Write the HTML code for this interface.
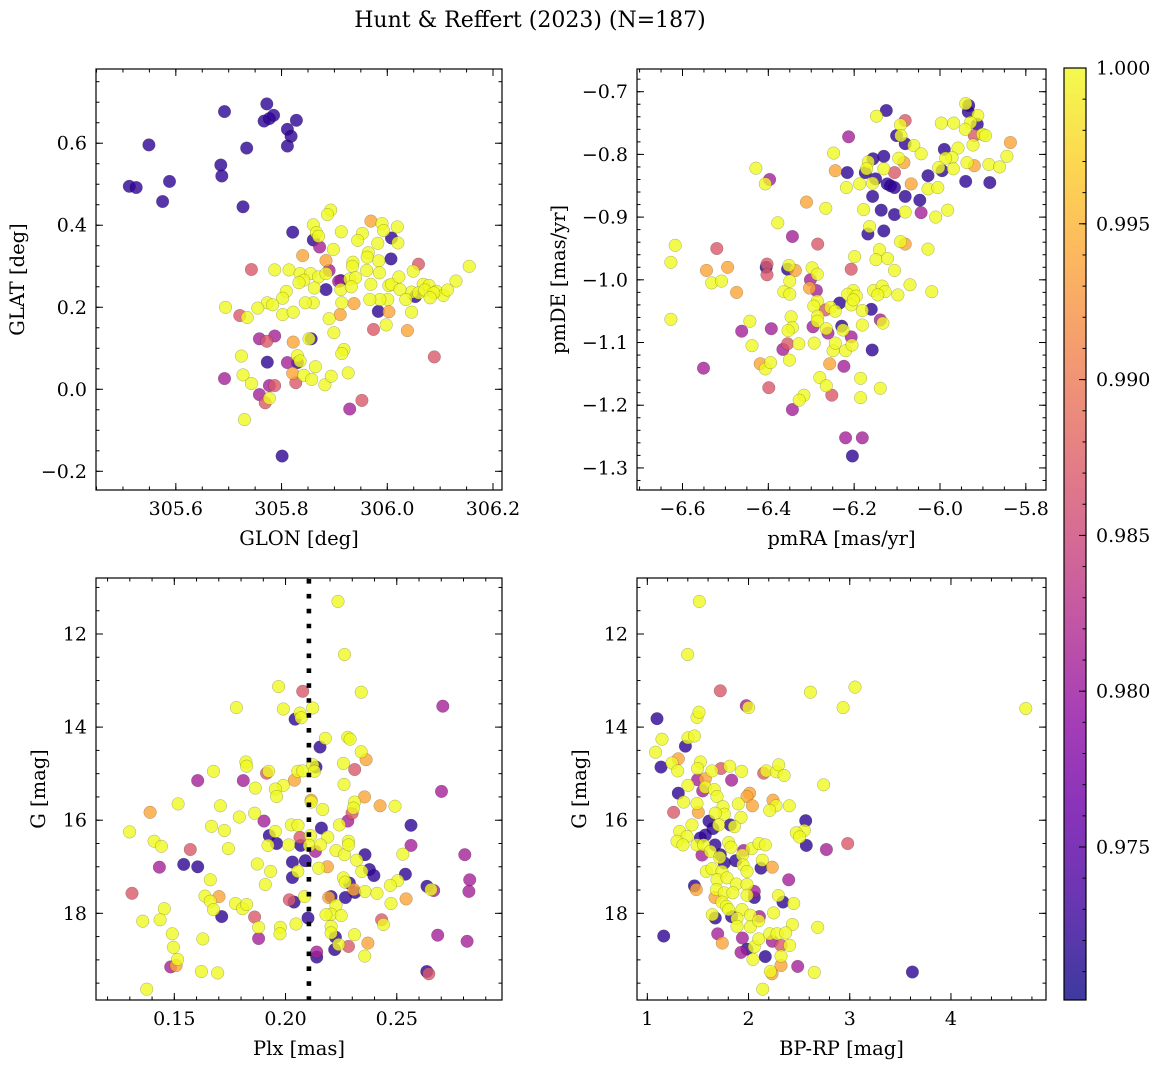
<!DOCTYPE html>
<html><head><meta charset="utf-8">
<style>
html,body{margin:0;padding:0;background:#fff;}
svg{display:block;font-family:"DejaVu Serif","Liberation Serif",serif;}
</style></head>
<body>
<svg id="fig" width="1161" height="1068" viewBox="0 0 1161 1068" xmlns="http://www.w3.org/2000/svg">
<defs>
<linearGradient id="plasmaGrad" x1="0" y1="1" x2="0" y2="0">
<stop offset="0" stop-color="#0d0887"/><stop offset="0.1" stop-color="#41049d"/><stop offset="0.2" stop-color="#6a00a8"/><stop offset="0.3" stop-color="#8f0da4"/><stop offset="0.4" stop-color="#b12a90"/><stop offset="0.5" stop-color="#cc4778"/><stop offset="0.6" stop-color="#e16462"/><stop offset="0.7" stop-color="#f2844b"/><stop offset="0.8" stop-color="#fca636"/><stop offset="0.9" stop-color="#fcce25"/><stop offset="1" stop-color="#f0f921"/>
</linearGradient>
</defs>
<text x="530" y="27" font-size="22" text-anchor="middle">Hunt &amp; Reffert (2023) (N=187)</text>
<g id="root"></g>
</svg>
<script>
const Y=1.0,O=0.994,P=0.987,M=0.981,D=0.972;
// Panel 1: GLON, GLAT, membership probability
const glonGlatPoints=[
[305.772,0.696,D],[305.692,0.677,D],[305.767,0.654,D],[305.777,0.660,D],[305.785,0.668,D],[305.828,0.656,D],[305.811,0.634,D],[305.818,0.617,D],[305.811,0.593,D],[305.549,0.596,D],[305.734,0.588,D],[305.685,0.547,D],[305.687,0.520,D],[305.512,0.495,D],[305.525,0.492,D],[305.588,0.507,D],[305.575,0.458,D],[305.727,0.445,D],[305.821,0.383,D],[305.801,-0.163,D],
[305.860,0.364,D],[306.008,0.369,D],[306.007,0.318,D],[305.884,0.243,D],[305.912,0.265,D],[305.983,0.190,D],[306.053,0.226,D],[305.773,0.066,D],[305.830,0.065,D],[305.856,0.123,D],
[305.872,0.347,M],[305.890,0.290,M],[305.758,0.123,M],[305.787,0.130,M],[305.811,0.065,M],[305.692,0.026,M],[305.758,-0.013,M],[305.777,0.009,M],[305.929,-0.048,M],[305.908,0.263,M],
[305.827,0.016,P],[305.743,0.292,P],[306.059,0.305,P],[305.721,0.180,P],[305.974,0.146,P],[305.772,0.117,P],[306.089,0.079,P],[305.952,-0.027,P],[305.769,-0.033,P],[305.787,0.009,P],
[305.969,0.410,O],[305.884,0.314,O],[305.840,0.326,O],[305.937,0.209,O],[305.911,0.182,O],[306.003,0.189,O],[306.038,0.143,O],[305.822,0.115,O],[305.821,0.039,O],
[305.893,0.437,Y],[305.887,0.426,Y],[305.860,0.401,Y],[305.866,0.382,Y],[305.870,0.373,Y],[305.913,0.384,Y],[305.953,0.380,Y],[305.944,0.363,Y],[305.990,0.404,Y],[305.993,0.387,Y],[306.019,0.396,Y],[306.020,0.357,Y],[305.982,0.356,Y],[305.898,0.341,Y],[305.964,0.333,Y],[305.962,0.322,Y],[305.984,0.313,Y],[305.935,0.310,Y],[305.934,0.300,Y],[305.787,0.291,Y],[305.814,0.291,Y],[305.835,0.282,Y],[305.855,0.282,Y],[305.870,0.274,Y],[305.842,0.266,Y],[305.833,0.260,Y],[305.862,0.247,Y],[305.884,0.282,Y],[305.912,0.243,Y],[305.929,0.269,Y],[305.940,0.272,Y],[305.961,0.290,Y],[305.969,0.256,Y],[305.985,0.284,Y],[306.003,0.253,Y],[306.008,0.256,Y],[306.022,0.274,Y],[306.049,0.288,Y],[306.068,0.256,Y],[306.079,0.253,Y],[306.093,0.239,Y],[306.106,0.229,Y],[306.114,0.242,Y],[306.130,0.264,Y],[306.155,0.300,Y],[306.046,0.237,Y],[306.059,0.235,Y],[306.071,0.242,Y],[306.088,0.235,Y],[306.081,0.223,Y],[306.024,0.243,Y],[306.035,0.219,Y],[306.046,0.188,Y],[306.001,0.219,Y],[305.986,0.219,Y],[305.967,0.219,Y],[305.998,0.157,Y],[305.914,0.211,Y],[305.932,0.250,Y],[305.890,0.172,Y],[305.899,0.138,Y],[305.918,0.097,Y],[305.914,0.087,Y],[305.860,0.211,Y],[305.845,0.211,Y],[305.809,0.239,Y],[305.802,0.222,Y],[305.802,0.182,Y],[305.822,0.188,Y],[305.773,0.211,Y],[305.783,0.206,Y],[305.755,0.198,Y],[305.694,0.200,Y],[305.735,0.175,Y],[305.852,0.123,Y],[305.724,0.081,Y],[305.830,0.082,Y],[305.835,0.069,Y],[305.864,0.055,Y],[305.727,0.035,Y],[305.743,0.014,Y],[305.777,-0.022,Y],[305.842,0.034,Y],[305.857,0.024,Y],[305.882,0.011,Y],[305.894,0.032,Y],[305.926,0.040,Y],[305.730,-0.074,Y]
];
// Panel 2: pmRA, pmDE, probability
const pmPoints=[
[-5.940,-0.719,Y],[-5.933,-0.722,D],[-5.934,-0.732,D],[-5.912,-0.738,Y],[-5.913,-0.752,D],[-5.929,-0.749,Y],[-5.941,-0.760,Y],[-5.968,-0.750,Y],[-5.997,-0.750,Y],[-5.901,-0.768,Y],[-5.894,-0.770,Y],[-5.920,-0.770,P],[-5.923,-0.785,Y],[-6.125,-0.730,D],[-6.148,-0.739,Y],[-6.081,-0.746,P],[-6.092,-0.753,Y],[-6.101,-0.770,D],[-6.091,-0.770,Y],[-6.081,-0.783,D],[-6.061,-0.786,Y],[-6.044,-0.799,Y],[-6.213,-0.772,M],[-5.836,-0.781,O],[-5.990,-0.792,D],[-5.958,-0.790,Y],[-5.972,-0.805,Y],[-5.987,-0.806,Y],[-5.937,-0.813,Y],[-5.920,-0.818,O],[-5.886,-0.816,Y],[-5.861,-0.820,Y],[-5.844,-0.803,Y],[-5.969,-0.823,Y],[-5.995,-0.826,D],[-6.003,-0.821,Y],[-6.248,-0.798,Y],[-6.156,-0.807,D],[-6.131,-0.803,D],[-6.096,-0.806,Y],[-6.084,-0.813,O],[-6.167,-0.812,Y],[-6.171,-0.823,Y],[-6.174,-0.829,D],[-6.216,-0.829,D],[-6.244,-0.826,O],[-6.131,-0.823,Y],[-6.106,-0.829,P],[-6.150,-0.839,D],[-6.157,-0.846,Y],[-6.123,-0.847,D],[-6.115,-0.850,D],[-6.106,-0.853,D],[-6.067,-0.847,O],[-6.028,-0.834,D],[-5.940,-0.843,D],[-5.884,-0.845,D],[-6.187,-0.847,Y],[-6.218,-0.853,Y],[-6.028,-0.855,Y],[-6.005,-0.853,Y],[-6.157,-0.867,D],[-6.081,-0.867,D],[-6.047,-0.873,D],[-6.137,-0.889,D],[-6.106,-0.896,D],[-6.081,-0.892,Y],[-6.044,-0.893,M],[-6.010,-0.900,Y],[-5.982,-0.889,Y],[-6.178,-0.888,Y],[-6.266,-0.886,Y],[-6.311,-0.876,O],[-6.429,-0.822,Y],[-6.397,-0.840,M],[-6.407,-0.847,Y],[-6.378,-0.909,Y],[-6.164,-0.915,Y],[-6.168,-0.927,D],[-6.131,-0.922,D],[-6.092,-0.939,Y],[-6.081,-0.943,O],[-6.028,-0.951,Y],[-6.141,-0.952,Y],[-6.149,-0.968,Y],[-6.122,-0.966,Y],[-6.199,-0.963,Y],[-6.106,-0.985,Y],[-6.285,-0.943,P],[-6.344,-0.931,M],[-6.617,-0.945,Y],[-6.627,-0.972,Y],[-6.520,-0.950,P],[-6.544,-0.985,O],[-6.495,-0.980,O],[-6.532,-1.005,Y],[-6.509,-1.002,Y],[-6.474,-1.020,O],[-6.403,-0.975,P],[-6.405,-0.980,D],[-6.403,-0.992,P],[-6.352,-0.977,Y],[-6.355,-0.983,D],[-6.337,-0.985,O],[-6.350,-1.002,Y],[-6.364,-1.019,Y],[-6.350,-1.023,Y],[-6.298,-0.981,Y],[-6.286,-0.991,Y],[-6.302,-1.000,M],[-6.304,-1.013,O],[-6.288,-1.017,M],[-6.207,-0.983,P],[-6.202,-1.017,Y],[-6.215,-1.023,Y],[-6.195,-1.026,Y],[-6.207,-1.040,Y],[-6.202,-1.032,Y],[-6.155,-1.017,Y],[-6.135,-1.010,Y],[-6.128,-1.019,Y],[-6.145,-1.024,Y],[-6.098,-1.024,Y],[-6.070,-1.008,Y],[-6.019,-1.019,Y],[-6.286,-1.034,Y],[-6.294,-1.042,Y],[-6.234,-1.037,D],[-6.267,-1.048,P],[-6.255,-1.044,Y],[-6.244,-1.050,Y],[-6.181,-1.049,Y],[-6.160,-1.047,D],[-6.285,-1.058,Y],[-6.286,-1.066,Y],[-6.347,-1.059,Y],[-6.344,-1.076,Y],[-6.354,-1.081,Y],[-6.296,-1.075,M],[-6.265,-1.078,Y],[-6.261,-1.085,M],[-6.229,-1.074,D],[-6.226,-1.080,Y],[-6.207,-1.091,M],[-6.139,-1.064,M],[-6.133,-1.069,Y],[-6.181,-1.072,Y],[-6.443,-1.066,Y],[-6.462,-1.082,M],[-6.393,-1.078,M],[-6.438,-1.105,Y],[-6.355,-1.102,P],[-6.366,-1.111,M],[-6.329,-1.102,Y],[-6.293,-1.101,Y],[-6.249,-1.113,Y],[-6.244,-1.101,Y],[-6.220,-1.113,Y],[-6.205,-1.104,Y],[-6.158,-1.112,D],[-6.419,-1.134,O],[-6.407,-1.142,Y],[-6.395,-1.132,Y],[-6.351,-1.128,Y],[-6.257,-1.134,O],[-6.224,-1.138,M],[-6.551,-1.141,M],[-6.627,-1.063,Y],[-6.399,-1.172,P],[-6.280,-1.156,Y],[-6.265,-1.169,Y],[-6.252,-1.184,P],[-6.185,-1.157,Y],[-6.139,-1.173,Y],[-6.185,-1.188,Y],[-6.317,-1.184,Y],[-6.328,-1.192,Y],[-6.344,-1.207,M],[-6.220,-1.252,M],[-6.181,-1.252,M],[-6.204,-1.281,D]
];
// Panel 3: Plx, G, probability
const plxGPoints=[
[0.2236,11.30,Y],[0.2265,12.44,Y],[0.1969,13.13,Y],[0.2077,13.23,P],[0.2340,13.25,Y],[0.1779,13.58,Y],[0.1990,13.61,Y],[0.2122,13.59,Y],[0.2043,13.83,D],[0.2065,13.70,Y],[0.2070,13.80,Y],[0.2707,13.55,M],[0.2179,14.24,Y],[0.2155,14.43,D],[0.2280,14.22,Y],[0.2290,14.26,Y],[0.2340,14.53,Y],[0.2362,14.70,O],[0.1822,14.75,Y],[0.1825,14.84,Y],[0.1676,14.95,Y],[0.1915,14.99,P],[0.1924,14.95,Y],[0.2055,14.95,Y],[0.2077,14.94,Y],[0.2122,14.81,Y],[0.2137,14.86,D],[0.2130,14.95,Y],[0.2040,15.14,O],[0.1990,15.25,Y],[0.1954,15.33,Y],[0.1960,15.49,Y],[0.1605,15.15,M],[0.1810,15.15,M],[0.1864,15.31,Y],[0.2260,14.78,Y],[0.2311,14.91,P],[0.2263,15.23,Y],[0.2701,15.38,M],[0.1517,15.65,Y],[0.1391,15.83,O],[0.1707,15.69,Y],[0.1792,15.93,Y],[0.1861,15.85,Y],[0.1903,16.02,M],[0.2115,15.61,Y],[0.2115,15.57,O],[0.2167,15.77,Y],[0.2355,15.50,O],[0.2310,15.61,Y],[0.2305,15.74,Y],[0.2299,15.85,P],[0.2425,15.69,O],[0.2492,15.70,Y],[0.1299,16.25,Y],[0.1409,16.45,Y],[0.1442,16.56,Y],[0.1667,16.13,Y],[0.1725,16.22,Y],[0.1743,16.61,Y],[0.1954,16.24,Y],[0.1927,16.33,D],[0.1960,16.50,D],[0.1921,16.54,Y],[0.2014,16.53,Y],[0.2026,16.10,Y],[0.2056,16.11,Y],[0.2161,16.17,D],[0.2190,16.36,Y],[0.2242,16.10,Y],[0.2280,16.02,M],[0.2564,16.11,D],[0.2564,16.54,M],[0.2527,16.73,Y],[0.2806,16.74,M],[0.1572,16.63,P],[0.1433,17.01,M],[0.1542,16.95,D],[0.1605,17.00,D],[0.2031,16.90,D],[0.2089,16.87,D],[0.2068,16.54,D],[0.2065,16.37,P],[0.2112,16.33,Y],[0.2107,16.54,Y],[0.2134,16.67,M],[0.2157,16.53,Y],[0.2227,16.65,Y],[0.2265,16.74,Y],[0.2283,16.45,Y],[0.2283,16.53,Y],[0.2320,16.86,Y],[0.2357,16.74,D],[0.2343,17.10,Y],[0.2377,17.06,D],[0.2397,17.19,D],[0.2539,17.16,D],[0.2504,17.30,Y],[0.2471,17.40,Y],[0.1873,16.94,Y],[0.1933,17.10,Y],[0.2055,17.10,Y],[0.2031,17.23,D],[0.1909,17.38,Y],[0.2149,17.03,Y],[0.2188,17.00,O],[0.2260,17.24,Y],[0.2268,17.33,Y],[0.2287,17.35,D],[0.2357,17.53,Y],[0.2312,17.55,D],[0.2307,17.49,O],[0.2411,17.57,Y],[0.1662,17.28,Y],[0.2828,17.28,M],[0.2824,17.53,M],[0.2636,17.42,D],[0.2654,17.49,Y],[0.2666,17.51,M],[0.1310,17.57,P],[0.1638,17.63,Y],[0.1662,17.74,Y],[0.1701,17.64,O],[0.1676,17.92,Y],[0.1713,18.07,D],[0.1775,17.79,Y],[0.1807,17.90,Y],[0.1825,17.81,Y],[0.1861,18.08,P],[0.1879,18.30,Y],[0.1879,18.54,M],[0.1455,17.90,Y],[0.1358,18.17,Y],[0.1436,18.14,Y],[0.1491,18.44,Y],[0.1496,18.73,Y],[0.1515,18.99,Y],[0.1484,19.15,M],[0.1508,19.12,O],[0.1628,18.55,Y],[0.1622,19.25,Y],[0.1695,19.28,Y],[0.1376,19.63,Y],[0.1977,18.30,Y],[0.1975,18.44,Y],[0.2038,17.76,D],[0.2017,17.71,P],[0.2085,17.64,Y],[0.2205,17.64,D],[0.2194,17.66,O],[0.2269,17.66,D],[0.2227,17.83,Y],[0.2205,18.02,Y],[0.2182,18.03,Y],[0.2250,18.05,Y],[0.2101,18.10,D],[0.2047,18.23,Y],[0.2205,18.28,Y],[0.2205,18.42,Y],[0.2224,18.51,D],[0.2310,18.46,Y],[0.2474,17.79,Y],[0.2542,17.69,O],[0.2432,18.14,P],[0.2440,18.24,Y],[0.2221,18.78,D],[0.2239,18.67,Y],[0.2283,18.71,P],[0.2370,18.64,O],[0.2356,18.92,Y],[0.2140,18.83,M],[0.2140,18.94,D],[0.2684,18.47,M],[0.2816,18.60,M],[0.2635,19.25,D],[0.2644,19.30,P]
];
const plxLine=[0.2105];
// Panel 4: BP-RP, G, probability
const cmdPoints=[
[1.514,11.30,Y],[1.399,12.44,Y],[1.721,13.22,P],[2.611,13.25,Y],[3.052,13.14,Y],[2.934,13.58,Y],[1.978,13.54,M],[2.001,13.58,Y],[4.739,13.60,Y],[1.096,13.82,D],[1.491,13.79,Y],[1.511,13.68,Y],[1.145,14.26,Y],[1.376,14.41,D],[1.402,14.23,Y],[1.465,14.19,Y],[1.082,14.54,Y],[1.135,14.86,D],[1.306,14.68,O],[1.244,14.77,Y],[1.300,14.94,Y],[1.524,14.75,Y],[1.497,14.89,Y],[1.728,14.89,P],[1.639,14.94,Y],[1.814,14.84,Y],[1.932,14.95,Y],[2.150,14.99,P],[2.176,14.94,Y],[2.275,14.96,Y],[2.298,14.81,Y],[2.351,15.04,Y],[1.497,15.13,M],[1.573,15.11,O],[1.833,15.14,M],[1.402,15.25,Y],[1.306,15.42,D],[1.547,15.37,M],[1.573,15.29,Y],[1.662,15.34,Y],[1.688,15.49,Y],[1.359,15.61,Y],[1.491,15.64,Y],[1.504,15.83,O],[1.260,15.83,P],[2.011,15.42,O],[1.985,15.49,O],[2.038,15.69,O],[1.899,15.65,Y],[2.242,15.57,O],[2.271,15.69,Y],[2.209,15.79,Y],[2.403,15.69,Y],[1.748,15.71,Y],[1.761,15.87,Y],[1.672,15.85,Y],[1.926,15.94,Y],[1.609,16.02,D],[1.649,16.18,D],[1.705,16.10,Y],[1.860,16.14,Y],[1.820,16.10,D],[1.441,16.10,Y],[1.320,16.24,Y],[1.392,16.35,Y],[1.293,16.45,Y],[1.352,16.53,Y],[1.524,16.38,D],[1.573,16.32,D],[1.491,16.53,Y],[1.557,16.53,Y],[1.669,16.53,D],[1.804,16.48,Y],[1.827,16.58,Y],[1.623,16.67,Y],[1.540,16.75,M],[1.721,16.74,D],[1.761,16.92,D],[1.715,16.80,Y],[1.952,16.65,M],[2.031,16.61,Y],[2.103,16.50,Y],[2.166,16.53,Y],[2.565,16.01,D],[2.551,16.22,Y],[2.472,16.27,Y],[2.505,16.36,Y],[2.571,16.54,D],[2.769,16.63,M],[2.980,16.50,P],[2.742,15.24,Y],[1.939,16.75,Y],[1.945,16.96,Y],[1.873,16.87,D],[1.985,17.10,Y],[2.136,16.86,Y],[2.123,17.03,D],[2.235,17.01,O],[1.583,17.10,Y],[1.639,17.04,Y],[1.738,17.10,Y],[1.688,17.28,Y],[1.787,17.24,Y],[1.879,17.37,Y],[1.465,17.41,D],[1.484,17.49,O],[1.682,17.49,Y],[1.761,17.56,Y],[1.669,17.66,O],[1.846,17.56,Y],[2.057,17.53,M],[2.057,17.66,D],[1.985,17.38,Y],[1.985,17.61,Y],[1.738,17.76,Y],[1.781,17.85,Y],[1.804,17.92,Y],[2.397,17.28,M],[2.295,17.62,Y],[2.341,17.76,D],[2.446,17.79,Y],[2.248,17.99,Y],[1.642,18.03,Y],[1.672,18.10,D],[1.833,18.07,D],[1.935,17.92,Y],[1.886,18.11,Y],[2.018,18.04,Y],[2.107,18.07,M],[1.886,18.28,Y],[2.018,18.29,Y],[2.100,18.16,Y],[2.433,18.24,Y],[2.683,18.30,Y],[1.162,18.49,D],[1.695,18.44,M],[1.741,18.64,O],[1.939,18.53,M],[1.926,18.84,M],[1.985,18.77,D],[2.057,18.72,Y],[2.100,18.55,Y],[2.209,18.44,Y],[2.281,18.44,Y],[2.367,18.42,Y],[2.235,18.60,M],[2.321,18.69,P],[2.407,18.69,Y],[2.321,18.92,Y],[2.166,18.93,D],[2.044,18.99,Y],[2.321,19.12,O],[2.486,19.14,M],[2.216,19.25,Y],[2.232,19.30,O],[2.650,19.27,Y],[3.619,19.26,D],[2.140,19.63,Y]
];
// axis ticks
const glonTicks=[305.6,305.8,306.0,306.2];
const glatTicks=[-0.2,0.0,0.2,0.4,0.6];
const pmraTicks=[-6.6,-6.4,-6.2,-6.0,-5.8];
const pmdeTicks=[-1.3,-1.2,-1.1,-1.0,-0.9,-0.8,-0.7];
const plxTicks=[0.15,0.20,0.25];
const gTicks=[12,14,16,18];
const bprpTicks=[1,2,3,4];
const cbarTicks=[0.975,0.980,0.985,0.990,0.995,1.000];

const NS="http://www.w3.org/2000/svg";
const root=document.getElementById('root');
const TICK_FS=19, LABEL_FS=19.5;
function mk(tag,attrs,parent){const e=document.createElementNS(NS,tag);for(const k in attrs)e.setAttribute(k,attrs[k]);(parent||root).appendChild(e);return e;}
const stops=[[0,[13,8,135]],[0.1,[65,4,157]],[0.2,[106,0,168]],[0.3,[143,13,164]],[0.4,[177,42,144]],[0.5,[204,71,120]],[0.6,[225,100,98]],[0.7,[242,132,75]],[0.8,[252,166,54]],[0.9,[252,206,37]],[1,[240,249,33]]];
const vmin=0.97009,vmax=1.0;
function plasma(v){let t=(v-vmin)/(vmax-vmin);t=Math.max(0,Math.min(1,t));for(let i=1;i<stops.length;i++){if(t<=stops[i][0]){const a=stops[i-1],b=stops[i];const f=(t-a[0])/(b[0]-a[0]);const c=a[1].map((x,j)=>Math.round(x+(b[1][j]-x)*f));return `rgb(${c[0]},${c[1]},${c[2]})`;}}return 'rgb(240,249,33)';}
function fmt(v,d){return (v<0?'\u2212':'')+Math.abs(v).toFixed(d);}

function panel(cfg){
  const {name,L,R,T,B,xmin,xmax,ymin,ymax,yInv,xTicks,yTicks,xMinor,yMinor,xDec,yDec,xLabel,yLabel,yLabelX,pts}=cfg;
  const sx=v=>L+(v-xmin)/(xmax-xmin)*(R-L);
  const sy=yInv?(v=>T+(v-ymin)/(ymax-ymin)*(B-T)):(v=>B-(v-ymin)/(ymax-ymin)*(B-T));
  const g=mk('g',{});
  
  
  const clip=mk('clipPath',{id:'clip-'+name},g);
  mk('rect',{x:L,y:T,width:R-L,height:B-T},clip);
  const pg=mk('g',{'clip-path':'url(#clip-'+name+')'},g);
  
  
  const sorted=pts.slice().sort((a,b)=>a[2]-b[2]);
  sorted.forEach(p=>{
    const c=mk('circle',{cx:sx(p[0]).toFixed(1),cy:sy(p[1]).toFixed(1),r:6.3,fill:plasma(p[2]),stroke:'#000','stroke-width':0.4,'stroke-opacity':0.5,opacity:0.8},pg);
    
    
  });
  if(cfg.vline){cfg.vline.forEach(v=>{const l=mk('line',{x1:sx(v),x2:sx(v),y1:T+1,y2:B,stroke:'#000','stroke-width':4.6,'stroke-dasharray':'4.6 10.3'},g);
    
    });}
  const tg=mk('g',{stroke:'#000','stroke-width':1},g);
  
  
  const minorX=[],minorY=[];
  for(let v=Math.ceil(xmin/xMinor)*xMinor;v<=xmax+1e-9;v+=xMinor)minorX.push(v);
  for(let v=Math.ceil(ymin/yMinor)*yMinor;v<=ymax+1e-9;v+=yMinor)minorY.push(v);
  minorX.forEach(v=>{const x=sx(v);mk('line',{x1:x,x2:x,y1:B,y2:B-3.5},tg);mk('line',{x1:x,x2:x,y1:T,y2:T+3.5},tg);});
  minorY.forEach(v=>{const y=sy(v);mk('line',{x1:L,x2:L+3.5,y1:y,y2:y},tg);mk('line',{x1:R,x2:R-3.5,y1:y,y2:y},tg);});
  xTicks.forEach(v=>{const x=sx(v);mk('line',{x1:x,x2:x,y1:B,y2:B-7},tg);mk('line',{x1:x,x2:x,y1:T,y2:T+7},tg);
    const t=mk('text',{x:x,y:B+25,'font-size':TICK_FS,'text-anchor':'middle'},g);t.textContent=fmt(v,xDec);
    
    });
  yTicks.forEach(v=>{const y=sy(v);mk('line',{x1:L,x2:L+7,y1:y,y2:y},tg);mk('line',{x1:R,x2:R-7,y1:y,y2:y},tg);
    const t=mk('text',{x:L-9,y:y+6.5,'font-size':TICK_FS,'text-anchor':'end'},g);t.textContent=fmt(v,yDec);
    
    });
  const fr=mk('rect',{x:L,y:T,width:R-L,height:B-T,fill:'none',stroke:'#000','stroke-width':1.2},g);
  
  
  const xl=mk('text',{x:(L+R)/2,y:B+55,'font-size':LABEL_FS,'text-anchor':'middle'},g);xl.textContent=xLabel;
  
  
  const cy=(T+B)/2;
  const yl=mk('text',{x:yLabelX,y:cy,'font-size':LABEL_FS,'text-anchor':'middle',transform:`rotate(-90 ${yLabelX} ${cy})`},g);yl.textContent=yLabel;
  
  
}

panel({name:'glon-glat',L:96,R:502,T:69,B:490,xmin:305.449,xmax:306.217,ymin:-0.2456,ymax:0.781,xTicks:glonTicks,yTicks:glatTicks,xMinor:0.05,yMinor:0.05,xDec:1,yDec:1,xLabel:'GLON [deg]',yLabel:'GLAT [deg]',yLabelX:24,pts:glonGlatPoints});
panel({name:'proper-motion',L:637,R:1046,T:69,B:490,xmin:-6.706,xmax:-5.753,ymin:-1.3352,ymax:-0.6638,xTicks:pmraTicks,yTicks:pmdeTicks,xMinor:0.05,yMinor:0.02,xDec:1,yDec:1,xLabel:'pmRA [mas/yr]',yLabel:'pmDE [mas/yr]',yLabelX:565,pts:pmPoints});
panel({name:'parallax-mag',L:96,R:502,T:578,B:1000,xmin:0.1148,xmax:0.2973,ymin:10.797,ymax:19.862,yInv:true,xTicks:plxTicks,yTicks:gTicks,xMinor:0.01,yMinor:0.5,xDec:2,yDec:0,xLabel:'Plx [mas]',yLabel:'G [mag]',yLabelX:45,pts:plxGPoints,vline:plxLine});
panel({name:'color-magnitude',L:637,R:1046,T:578,B:1000,xmin:0.898,xmax:4.939,ymin:10.797,ymax:19.862,yInv:true,xTicks:bprpTicks,yTicks:gTicks,xMinor:0.2,yMinor:0.5,xDec:0,yDec:0,xLabel:'BP-RP [mag]',yLabel:'G [mag]',yLabelX:586,pts:cmdPoints});

(function(){
  const L=1064,R=1086,T=68,B=1000;
  const g=mk('g',{});
  
  
  mk('rect',{x:L,y:T,width:R-L,height:B-T,fill:'url(#plasmaGrad)',opacity:0.8},g);
  const sy=v=>B-(v-vmin)/(vmax-vmin)*(B-T);
  for(let k=Math.ceil(vmin*1000);k<=1000;k++){const y=sy(k/1000);mk('line',{x1:R,x2:R-3.5,y1:y,y2:y,stroke:'#000','stroke-width':1},g);}
  cbarTicks.forEach(v=>{const y=sy(v);mk('line',{x1:R,x2:R-7,y1:y,y2:y,stroke:'#000','stroke-width':1},g);
    const t=mk('text',{x:R+10,y:y+6.5,'font-size':TICK_FS},g);t.textContent=v.toFixed(3);
    
    });
  mk('rect',{x:L,y:T,width:R-L,height:B-T,fill:'none',stroke:'#000','stroke-width':1.2},g);
})();
</script>
</body></html>
